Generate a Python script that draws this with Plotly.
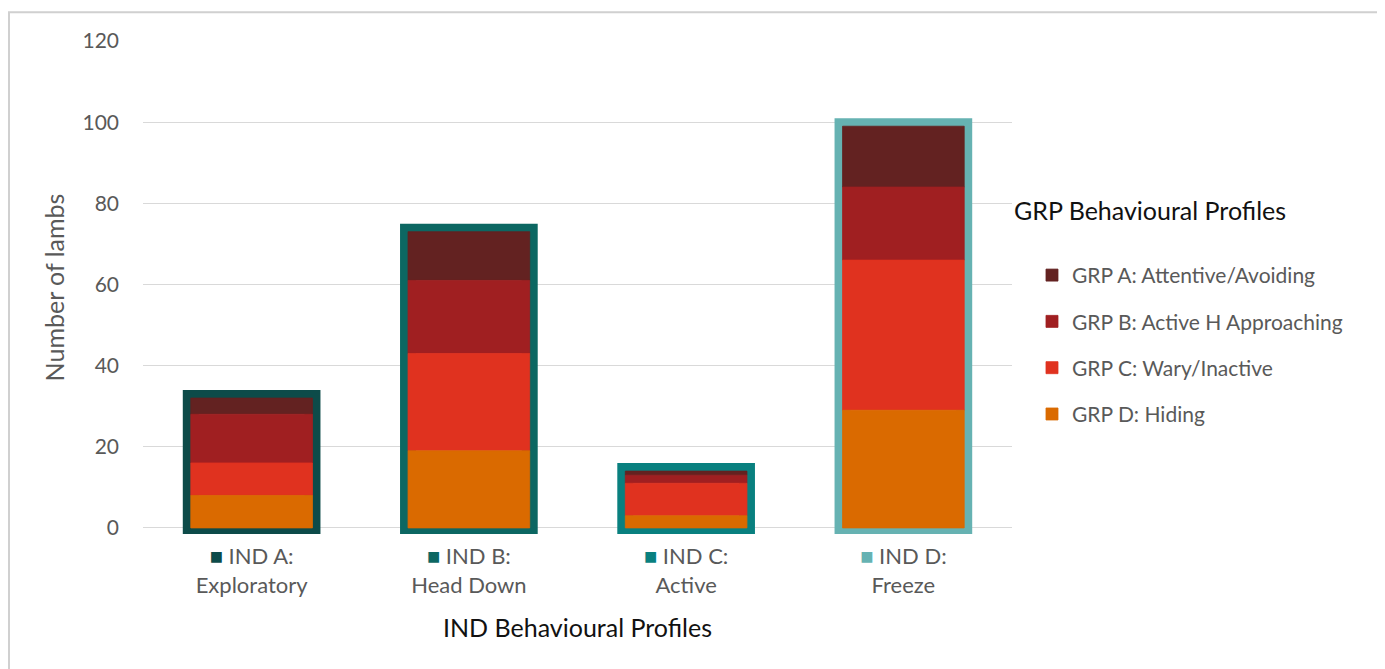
import numpy as np
import plotly.graph_objects as go

# ---- data ----
ind_profiles = ["IND A", "IND B", "IND C", "IND D"]
ind_line1 = ["IND A:", "IND B:", "IND C:", "IND D:"]
ind_line2 = ["Exploratory", "Head Down", "Active", "Freeze"]
ind_colors = ["#0D4B49", "#0C6762", "#09807F", "#66B2B2"]

grp_names = ["GRP A: Attentive/Avoiding", "GRP B: Active H Approaching",
             "GRP C: Wary/Inactive", "GRP D: Hiding"]
grp_colors = ["#632221", "#A01F21", "#E0321F", "#DA6A00"]
# values per IND profile (bottom to top stacking is D, C, B, A)
grp_a = [4, 12, 1, 15]
grp_b = [12, 18, 2, 18]
grp_c = [8, 24, 8, 37]
grp_d = [8, 19, 3, 29]

y_ticks = [0, 20, 40, 60, 80, 100, 120]

FONT = "Lato"
GRAY = "#595959"

series = [grp_a, grp_b, grp_c, grp_d]
stack_order = [3, 2, 1, 0]  # D at bottom
bases = {}
cum = np.zeros(len(ind_profiles))
for i in stack_order:
    bases[i] = cum.copy()
    cum = cum + np.array(series[i])
totals = cum

fig = go.Figure()

# outline bars coloured by IND profile (drawn first, underneath)
fig.add_trace(go.Bar(
    x=ind_profiles, y=totals, width=0.56,
    marker=dict(color="rgba(0,0,0,0)", line=dict(color=ind_colors, width=16)),
    showlegend=False, hoverinfo="skip", cliponaxis=False,
))

for i in range(4):
    fig.add_trace(go.Bar(
        x=ind_profiles, y=series[i], base=bases[i], width=0.56,
        name=grp_names[i], legendgroup=grp_names[i],
        marker=dict(color=grp_colors[i], line=dict(width=0.8, color=grp_colors[i])),
        cliponaxis=False,
    ))

ticktext = [
    f"<span style='color:{c}'>■</span> {a}<br>{b}"
    for c, a, b in zip(ind_colors, ind_line1, ind_line2)
]

fig.update_layout(
    width=1377, height=661,
    barmode="overlay",
    paper_bgcolor="white", plot_bgcolor="white",
    margin=dict(l=135, r=373, t=33, b=135),
    font=dict(family=FONT, size=18, color=GRAY),
    legend=dict(
        x=1.023, xanchor="left", y=0.3835, yanchor="middle",
        font=dict(family=FONT, size=21, color=GRAY),
        tracegroupgap=16, traceorder="grouped",
        bgcolor="rgba(0,0,0,0)",
    ),
    xaxis=dict(
        tickmode="array", tickvals=ind_profiles, ticktext=ticktext,
        tickfont=dict(family=FONT, size=22, color=GRAY),
        showgrid=False, showline=False, zeroline=False,
        ticks="", ticklabelstandoff=7,
        title=dict(text="IND Behavioural Profiles",
                   font=dict(family=FONT, size=25, color="#111111"),
                   standoff=22),
        range=[-0.5, 3.5],
    ),
    yaxis=dict(
        range=[-1.5, 120], tickvals=y_ticks,
        showgrid=True, gridcolor="#D9D9D9", gridwidth=1.3,
        zeroline=False, showline=False,
        tickfont=dict(family=FONT, size=21, color=GRAY),
        ticklabelstandoff=23,
        title=dict(text="Number of lambs",
                   font=dict(family=FONT, size=25, color=GRAY),
                   standoff=10),
    ),
    annotations=[dict(
        text="GRP Behavioural Profiles", xref="paper", yref="paper",
        x=1.0, y=0.6567, xanchor="left", yanchor="middle", showarrow=False,
        font=dict(family=FONT, size=25, color="#111111"),
    )],
    shapes=[dict(
        type="rect", xref="paper", yref="paper",
        x0=-0.1542, x1=1.4246, y0=-0.35, y1=1.0581,
        line=dict(color="#D0D0D0", width=2), fillcolor="rgba(0,0,0,0)",
        layer="below",
    )],
)

fig.write_html("out.html")
